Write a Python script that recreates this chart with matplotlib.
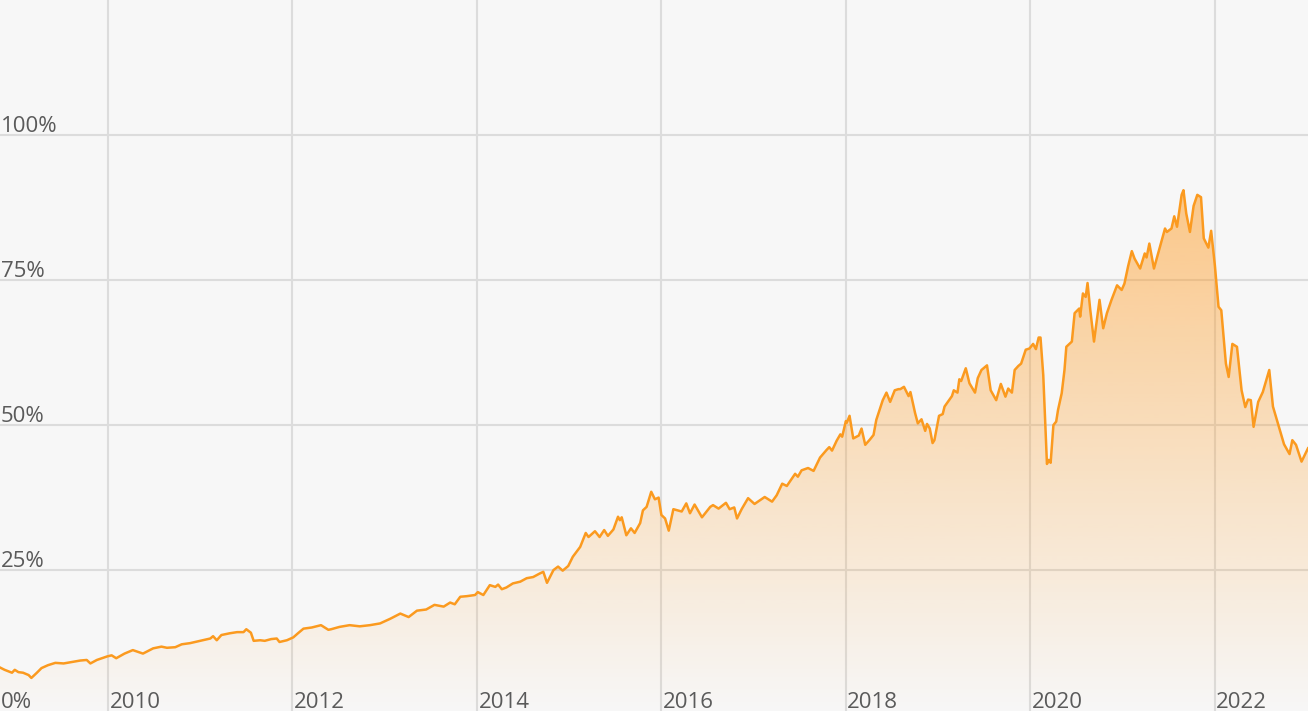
import matplotlib
matplotlib.use('Agg')
import matplotlib.pyplot as plt
import matplotlib.transforms as mtransforms
from matplotlib.patches import Polygon
import numpy as np

# cumulative return (decimal years, %)
years = [
    2008.83, 2008.88, 2008.96, 2008.99, 2009.03, 2009.08, 2009.14, 2009.17, 2009.23, 2009.28,
    2009.35, 2009.43, 2009.52, 2009.59, 2009.70, 2009.77, 2009.81, 2009.88, 2009.99, 2010.04,
    2010.09, 2010.18, 2010.27, 2010.38, 2010.49, 2010.58, 2010.64, 2010.73, 2010.80, 2010.89,
    2011.00, 2011.11, 2011.14, 2011.18, 2011.23, 2011.32, 2011.40, 2011.47, 2011.50, 2011.55,
    2011.58, 2011.65, 2011.70, 2011.77, 2011.83, 2011.86, 2011.94, 2012.01, 2012.06, 2012.12,
    2012.21, 2012.31, 2012.39, 2012.42, 2012.51, 2012.62, 2012.73, 2012.84, 2012.95, 2013.06,
    2013.17, 2013.26, 2013.35, 2013.45, 2013.54, 2013.64, 2013.71, 2013.76, 2013.82, 2013.89,
    2013.98, 2014.01, 2014.07, 2014.14, 2014.20, 2014.23, 2014.27, 2014.32, 2014.39, 2014.47,
    2014.54, 2014.61, 2014.68, 2014.72, 2014.76, 2014.83, 2014.88, 2014.93, 2014.99, 2015.04,
    2015.12, 2015.18, 2015.21, 2015.28, 2015.33, 2015.38, 2015.42, 2015.48, 2015.53, 2015.55,
    2015.57, 2015.62, 2015.67, 2015.71, 2015.77, 2015.80, 2015.84, 2015.89, 2015.93, 2015.97,
    2016.00, 2016.04, 2016.08, 2016.13, 2016.22, 2016.27, 2016.31, 2016.36, 2016.44, 2016.53,
    2016.56, 2016.62, 2016.70, 2016.74, 2016.79, 2016.82, 2016.87, 2016.94, 2017.01, 2017.12,
    2017.20, 2017.25, 2017.31, 2017.36, 2017.45, 2017.48, 2017.52, 2017.59, 2017.65, 2017.72,
    2017.79, 2017.82, 2017.85, 2017.90, 2017.94, 2017.96, 2018.00, 2018.01, 2018.04, 2018.08,
    2018.14, 2018.17, 2018.21, 2018.26, 2018.30, 2018.33, 2018.40, 2018.44, 2018.48, 2018.53,
    2018.57, 2018.59, 2018.63, 2018.68, 2018.70, 2018.75, 2018.78, 2018.82, 2018.86, 2018.88,
    2018.91, 2018.94, 2018.96, 2019.01, 2019.05, 2019.07, 2019.15, 2019.17, 2019.21, 2019.23,
    2019.25, 2019.30, 2019.34, 2019.40, 2019.43, 2019.47, 2019.53, 2019.57, 2019.63, 2019.68,
    2019.73, 2019.76, 2019.80, 2019.83, 2019.87, 2019.90, 2019.95, 2019.99, 2020.03, 2020.06,
    2020.09, 2020.11, 2020.14, 2020.18, 2020.20, 2020.22, 2020.25, 2020.28, 2020.30, 2020.34,
    2020.37, 2020.39, 2020.45, 2020.48, 2020.53, 2020.54, 2020.57, 2020.60, 2020.62, 2020.65,
    2020.69, 2020.75, 2020.79, 2020.83, 2020.88, 2020.94, 2020.99, 2021.02, 2021.06, 2021.10,
    2021.13, 2021.19, 2021.24, 2021.26, 2021.29, 2021.34, 2021.39, 2021.46, 2021.48, 2021.53,
    2021.56, 2021.59, 2021.64, 2021.66, 2021.69, 2021.73, 2021.77, 2021.81, 2021.85, 2021.88,
    2021.93, 2021.96, 2022.00, 2022.04, 2022.07, 2022.12, 2022.15, 2022.19, 2022.24, 2022.29,
    2022.33, 2022.36, 2022.39, 2022.42, 2022.47, 2022.52, 2022.59, 2022.63, 2022.70, 2022.75,
    2022.81, 2022.84, 2022.88, 2022.94, 2023.01,
]
values = [
    8.2, 7.8, 7.3, 7.8, 7.4, 7.3, 6.9, 6.4, 7.3, 8.1,
    8.6, 9.0, 8.9, 9.1, 9.4, 9.5, 8.9, 9.5, 10.1, 10.3,
    9.8, 10.6, 11.2, 10.6, 11.5, 11.8, 11.6, 11.7, 12.2, 12.4,
    12.8, 13.2, 13.6, 12.9, 13.8, 14.1, 14.3, 14.3, 14.8, 14.2,
    12.8, 12.9, 12.8, 13.1, 13.2, 12.6, 12.9, 13.4, 14.1, 14.9,
    15.1, 15.5, 14.7, 14.8, 15.2, 15.5, 15.3, 15.5, 15.8, 16.6,
    17.5, 16.9, 18.0, 18.2, 19.0, 18.7, 19.4, 19.1, 20.4, 20.5,
    20.7, 21.2, 20.7, 22.4, 22.1, 22.5, 21.7, 22.0, 22.7, 23.0,
    23.6, 23.8, 24.4, 24.7, 22.8, 25.0, 25.6, 24.9, 25.7, 27.3,
    29.0, 31.4, 30.7, 31.7, 30.7, 31.9, 30.9, 32.0, 34.2, 33.6,
    34.1, 31.0, 32.2, 31.4, 33.1, 35.3, 35.9, 38.5, 37.2, 37.5,
    34.5, 33.9, 31.8, 35.5, 35.1, 36.5, 34.8, 36.3, 34.1, 35.9,
    36.2, 35.6, 36.6, 35.5, 35.8, 33.9, 35.5, 37.4, 36.4, 37.6,
    36.8, 37.9, 39.9, 39.5, 41.6, 41.1, 42.2, 42.6, 42.1, 44.4,
    45.7, 46.2, 45.6, 47.3, 48.4, 48.0, 50.7, 50.4, 51.6, 47.7,
    48.2, 49.4, 46.6, 47.5, 48.3, 50.9, 54.3, 55.6, 54.0, 56.0,
    56.2, 56.2, 56.6, 55.0, 55.7, 52.1, 50.3, 51.0, 49.0, 50.2,
    49.4, 46.9, 47.4, 51.6, 51.9, 53.2, 55.0, 56.0, 55.6, 57.9,
    57.6, 59.8, 57.2, 55.6, 58.1, 59.5, 60.3, 56.0, 54.3, 57.1,
    54.9, 56.3, 55.6, 59.5, 60.2, 60.6, 63.0, 63.2, 64.0, 63.1,
    65.1, 65.1, 58.6, 43.3, 44.0, 43.5, 50.0, 50.6, 52.6, 55.5,
    59.5, 63.5, 64.4, 69.3, 70.1, 68.7, 72.7, 72.1, 74.5, 69.8,
    64.4, 71.6, 66.7, 69.3, 71.6, 74.1, 73.3, 74.4, 77.4, 80.0,
    78.7, 77.0, 79.6, 78.9, 81.3, 77.0, 79.9, 83.9, 83.3, 83.9,
    86.0, 84.2, 89.7, 90.5, 86.5, 83.3, 87.8, 89.7, 89.3, 82.2,
    80.6, 83.5, 77.6, 70.4, 69.8, 60.6, 58.3, 64.0, 63.5, 56.0,
    53.1, 54.4, 54.3, 49.7, 54.0, 55.7, 59.5, 53.2, 49.4, 46.7,
    45.0, 47.4, 46.6, 43.7, 46.0,
]
x_ticks = [2010, 2012, 2014, 2016, 2018, 2020, 2022]
y_ticks = [0, 25, 50, 75, 100]
y_labels = ['0%', '25%', '50%', '75%', '100%']

plt.rcParams['font.family'] = ['Open Sans', 'DejaVu Sans']

fig = plt.figure(figsize=(13.08, 7.26), dpi=100)
ax = fig.add_axes([0, 15 / 726, 1, 711 / 726])
ax.set_facecolor('#f7f7f7')

x0, x1 = 2008.83, 2023.01
y0, y1 = 0.7, 123.3
ax.set_xlim(x0, x1)
ax.set_ylim(y0, y1)
for s in ax.spines.values():
    s.set_visible(False)
ax.set_xticks(x_ticks)
ax.set_yticks(y_ticks)
ax.tick_params(length=0, labelbottom=False, labelleft=False)
ax.grid(True, color='#dcdcdc', lw=1.5)
ax.set_axisbelow(True)

# gradient fill under the line
orange = (1.0, 0.6, 0.12)
levels = np.linspace(0, y1, 256)
grad = np.zeros((256, 1, 4))
grad[:, 0, :3] = orange
grad[:, 0, 3] = 0.56 * levels / 100
im = ax.imshow(grad, extent=[x0, x1, 0, y1], origin='lower', aspect='auto',
               interpolation='bilinear', zorder=2)
verts = np.column_stack([years + years[::-1],
                         values + [y0 - 5] * len(years)])
poly = Polygon(verts, closed=True, facecolor='none', edgecolor='none')
ax.add_patch(poly)
im.set_clip_path(poly)
ax.set_xlim(x0, x1)
ax.set_ylim(y0, y1)

ax.plot(years, values, color='#fb9a1f', lw=1.8, solid_joinstyle='round', zorder=3)

# labels drawn inside the plot area
txt = dict(fontsize=16, color='#5a5a5a', va='baseline', ha='left', zorder=4)
ytrans = mtransforms.blended_transform_factory(ax.transAxes, ax.transData)
for yv, lab in zip(y_ticks, y_labels):
    if yv < y0:
        tr = mtransforms.offset_copy(ax.transAxes, fig=fig, x=1, y=3, units='dots')
        ax.text(0, 0, lab, transform=tr, **txt)
    else:
        tr = mtransforms.offset_copy(ytrans, fig=fig, x=1, y=3, units='dots')
        ax.text(0, yv, lab, transform=tr, **txt)

xtrans = mtransforms.blended_transform_factory(ax.transData, ax.transAxes)
xtr = mtransforms.offset_copy(xtrans, fig=fig, x=1.5, y=3, units='dots')
for xv in x_ticks:
    ax.text(xv, 0, str(xv), transform=xtr, **txt)

fig.savefig('out.png', dpi=100, facecolor='white')
